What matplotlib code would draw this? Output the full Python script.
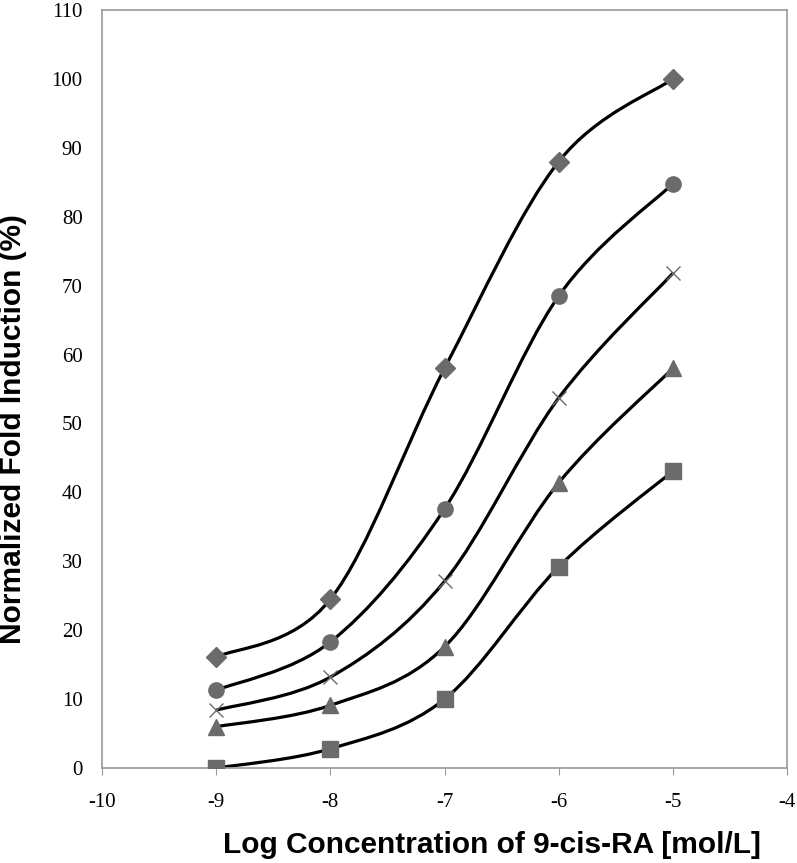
import numpy as np
import matplotlib.pyplot as plt
from matplotlib.path import Path
from matplotlib.patches import PathPatch

plt.rcParams['axes.unicode_minus'] = False

# log concentration of 9-cis-RA
log_conc = [-9, -8, -7, -6, -5]

# normalized fold induction (%) for each series
s_diamond = [16.1, 24.5, 58.0, 88.0, 100.0]
s_circle = [11.3, 18.3, 37.6, 68.5, 84.8]
s_cross = [8.4, 13.2, 27.1, 53.7, 71.8]
s_triangle = [6.0, 9.1, 17.6, 41.4, 58.0]
s_square = [0.0, 2.8, 10.0, 29.2, 43.1]

x_ticks = [-10, -9, -8, -7, -6, -5, -4]
y_ticks = list(range(0, 111, 10))


def smooth_path(xs, ys, t=1 / 6):
    # excel-like smoothed line: bezier segments with catmull-rom control points
    xs = np.asarray(xs, float)
    ys = np.asarray(ys, float)
    n = len(xs)
    verts = [(xs[0], ys[0])]
    codes = [Path.MOVETO]
    for i in range(n - 1):
        i0 = max(i - 1, 0)
        i3 = min(i + 2, n - 1)
        c1 = (xs[i] + (xs[i + 1] - xs[i0]) * t, ys[i] + (ys[i + 1] - ys[i0]) * t)
        c2 = (xs[i + 1] - (xs[i3] - xs[i]) * t, ys[i + 1] - (ys[i3] - ys[i]) * t)
        verts += [c1, c2, (xs[i + 1], ys[i + 1])]
        codes += [Path.CURVE4] * 3
    return Path(verts, codes)


fig = plt.figure(figsize=(7.97, 8.63), dpi=100)
ax = fig.add_axes([0.128, 0.110, 0.8595, 0.8784])

mcol = '#6b6b6b'
series = [
    (s_diamond, 'D', 10),
    (s_circle, 'o', 11),
    (s_cross, 'x', 10),
    (s_triangle, '^', 12),
    (s_square, 's', 11),
]
for ys, mk, ms in series:
    ax.add_patch(PathPatch(smooth_path(log_conc, ys), facecolor='none',
                           edgecolor='black', lw=2.3, zorder=2))
    if mk == 'x':
        ax.plot(log_conc, ys, ls='none', marker=mk, ms=ms, mec=mcol,
                mew=1.0, zorder=3)
    else:
        ax.plot(log_conc, ys, ls='none', marker=mk, ms=ms, mfc=mcol,
                mec=mcol, zorder=3)

ax.set_xlim(-10, -4)
ax.set_ylim(0, 110)
ax.set_xticks(x_ticks)
ax.set_yticks(y_ticks)

for s in ax.spines.values():
    s.set_color('#999999')
    s.set_linewidth(1.2)

ax.tick_params(axis='x', direction='out', length=5, color='#999999', pad=13)
ax.tick_params(axis='y', length=0, pad=14)
for lab in ax.get_xticklabels() + ax.get_yticklabels():
    lab.set_fontfamily('Liberation Serif')
    lab.set_fontsize(15)

ax.set_xlabel('Log Concentration of 9-cis-RA [mol/L]', fontsize=21.5,
              fontweight='bold', fontfamily='Liberation Sans', va='center')
ax.xaxis.set_label_coords(0.569, -0.1016)
ax.set_ylabel('Normalized Fold Induction (%)', fontsize=21.5,
              fontweight='bold', fontfamily='Liberation Sans', va='center')
ax.yaxis.set_label_coords(-0.130, 0.447)

fig.savefig('out.png', dpi=100)
